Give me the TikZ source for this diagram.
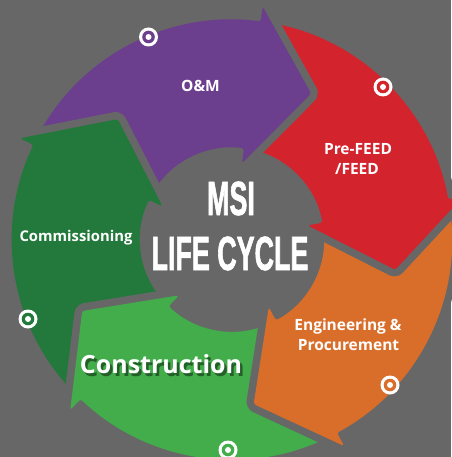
\documentclass[tikz,border=0pt]{standalone}
\usepackage{fontspec}
\setmainfont{Open Sans}
\newfontfamily\condfont[FakeStretch=0.56,FakeBold=1.2]{Liberation Sans Bold}
\definecolor{bgc}{HTML}{676767}
\definecolor{purp}{HTML}{6B3F8D}
\definecolor{redc}{HTML}{D3232D}
\definecolor{orng}{HTML}{D96E2B}
\definecolor{lgrn}{HTML}{42AD4A}
\definecolor{dgrn}{HTML}{22793B}
\newcommand{\arrowpath}[1]{({#1+70}:220pt) arc[start angle={#1+70}, end angle={#1}, radius=220pt] -- ({#1}:235pt) -- ({#1-21}:166pt) -- ({#1}:77pt) -- ({#1}:92pt) arc[start angle={#1}, end angle={#1+70}, radius=92pt] -- cycle}
\newcommand{\target}[3]{%
  \fill[white] (#1,#2) circle[radius=9.5];
  \fill[#3] (#1,#2) circle[radius=6.3];
  \fill[white] (#1,#2) circle[radius=3];}
\begin{document}
\begin{tikzpicture}[x=1pt,y=1pt,
  arw/.style={fill=#1, rounded corners=2.5pt, preaction={draw=bgc, line width=15pt, line join=round}},
  lbl/.style={text=white, font=\bfseries\fontsize{15.5}{18}\selectfont, anchor=base, inner sep=0pt},
  big/.style={text=white, font=\condfont\fontsize{48}{48}\selectfont, anchor=base, inner sep=0pt}]
\useasboundingbox (0,0) rectangle (451,-457);
\fill[bgc] (0,0) rectangle (451,-457);
\begin{scope}[shift={(232,-239.5)}]
  \path[arw=purp] \arrowpath{82.5};
  \path[arw=dgrn] \arrowpath{154.5};
  \path[arw=lgrn] \arrowpath{226.5};
  \path[arw=orng] \arrowpath{298.5};
  \path[arw=redc] \arrowpath{10.5};
  \begin{scope}
    \clip (0,0) -- (40:300pt) arc[start angle=40, end angle=110, radius=300pt] -- cycle;
    \path[arw=purp] \arrowpath{82.5};
  \end{scope}
\end{scope}
\target{148.5}{-37}{purp}
\target{383}{-87}{redc}
\target{390}{-385}{orng}
\target{228}{-450}{lgrn}
\target{28}{-319}{dgrn}
\node[lbl] (om) at (200.5,-92) {O\&M};
\node[lbl] (pf1) at (358,-155) {Pre-FEED};
\node[lbl] (pf2) at (357,-175) {/FEED};
\node[lbl, font=\bfseries\fontsize{14.8}{18}\selectfont] (com) at (76,-241) {Commissioning};
\node[lbl] (ep1) at (348,-330) {Engineering \&};
\node[lbl] (ep2) at (348.5,-350) {Procurement};
\node[lbl, text=black, opacity=0.45, font=\bfseries\fontsize{25}{28}\selectfont] (conshadow) at (163.5,-376) {Construction};
\node[lbl, font=\bfseries\fontsize{25}{28}\selectfont] (con) at (161,-373) {Construction};
\node[big] (msi) at (231,-215) {MSI};
\node[big] (lc) at (230,-270) {LIFE CYCLE};
\end{tikzpicture}
\end{document}
